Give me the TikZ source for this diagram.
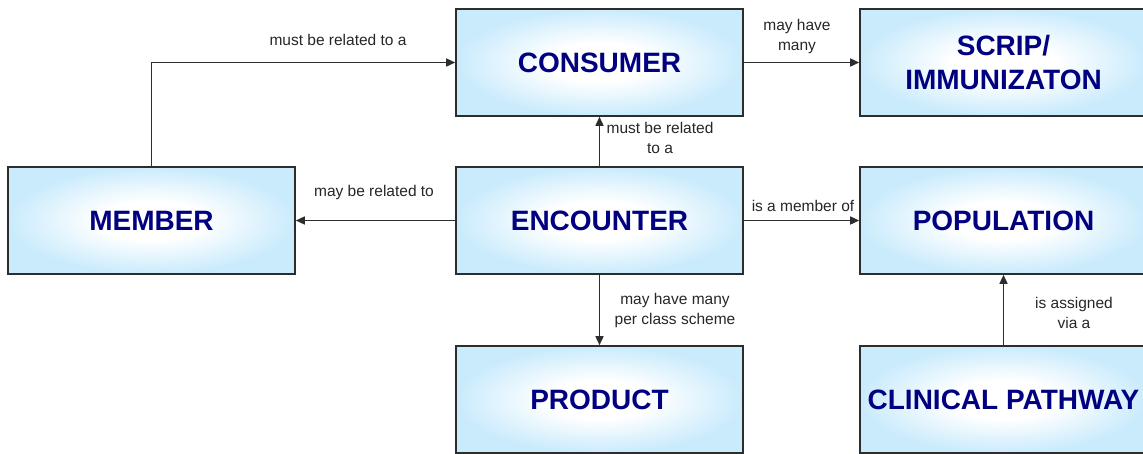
\documentclass[tikz,border=0pt]{standalone}
\usepackage{fontspec}
\setmainfont{Liberation Sans}
\usetikzlibrary{arrows.meta}
\definecolor{boxblue}{RGB}{202,235,252}
\definecolor{navy}{RGB}{0,0,128}
\definecolor{lineg}{RGB}{45,45,45}
\pgfdeclareradialshading{boxshade}{\pgfpoint{0bp}{0bp}}{color(0bp)=(white); color(9bp)=(white); color(25bp)=(boxblue); color(50bp)=(boxblue)}
\begin{document}
\begin{tikzpicture}[x=1pt,y=-1pt,
  entity/.style={draw=lineg, line width=1.6pt, shading=boxshade,
    minimum width=287pt, minimum height=107pt, inner sep=0pt,
    text=navy, font=\fontsize{28}{34}\selectfont\bfseries, align=center},
  arr/.style={draw=lineg, line width=1.5pt, -{Triangle[length=9pt,width=8pt]}},
  lbl/.style={font=\fontsize{15.5}{20}\selectfont, text=black!85, align=center, inner sep=0pt}]
\useasboundingbox (0,0) rectangle (1143,453);
\node[entity] (consumer) at (599.5,62.5) {CONSUMER};
\node[entity] (scrip) at (1003.5,62.5) {SCRIP/\\IMMUNIZATON};
\node[entity] (member) at (151.5,220.5) {MEMBER};
\node[entity] (encounter) at (599.5,220.5) {ENCOUNTER};
\node[entity] (population) at (1003.5,220.5) {POPULATION};
\node[entity] (product) at (599.5,399.5) {PRODUCT};
\node[entity] (clinical) at (1003.5,399.5) {CLINICAL PATHWAY};

\draw[arr] (member.north) |- (consumer.west);
\draw[arr] (encounter.north) -- (consumer.south);
\draw[arr] (consumer.east) -- (scrip.west);
\draw[arr] (encounter.west) -- (member.east);
\draw[arr] (encounter.east) -- (population.west);
\draw[arr] (encounter.south) -- (product.north);
\draw[arr] (clinical.north) -- (population.south);

\node[lbl] (l1) at (338,40) {must be related to a};
\node[lbl] (l2) at (797,36) {may have\\many};
\node[lbl] (l3) at (660,138) {must be related\\to a};
\node[lbl] (l4) at (374,192) {may be related to};
\node[lbl] (l5) at (803,206) {is a member of};
\node[lbl] (l6) at (675,310) {may have many\\per class scheme};
\node[lbl] (l7) at (1074,313) {is assigned\\via a};
\end{tikzpicture}
\end{document}
